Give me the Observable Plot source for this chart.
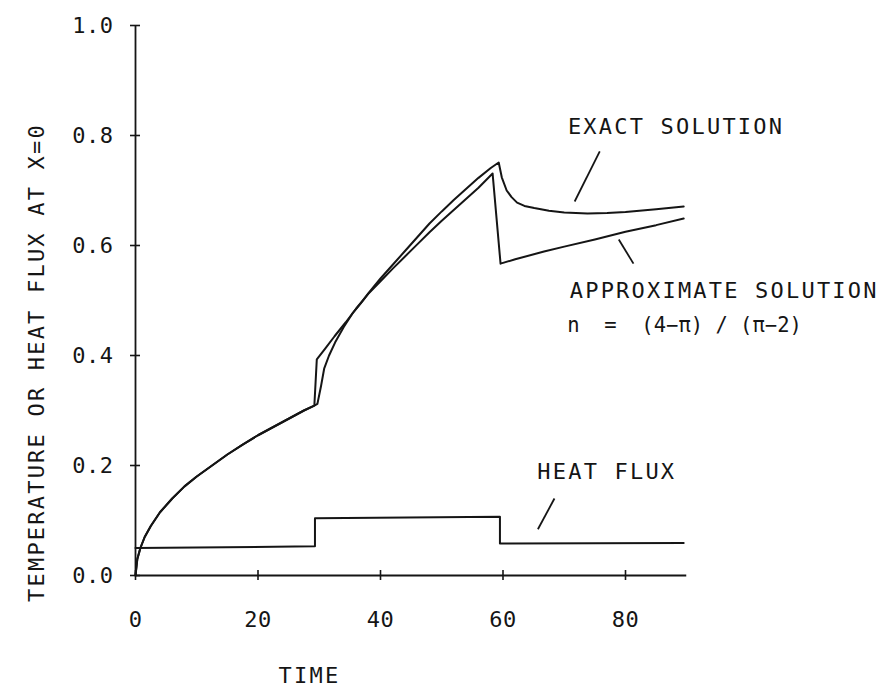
<!DOCTYPE html>
<html>
<head>
<meta charset="utf-8">
<script src="https://cdn.jsdelivr.net/npm/d3@7"></script>
<script src="https://cdn.jsdelivr.net/npm/@observablehq/plot@0.6"></script>
<style>
  body { margin: 0; background: #fff; }
  svg text { letter-spacing: 2.2px; }
  svg g[aria-label="x-axis tick label"] text,
  svg g[aria-label="y-axis tick label"] text { letter-spacing: 0.5px; }
</style>
</head>
<body>
<div id="chart"></div>
<script>
// ---- data ----
const exactX = [0, 0.3, 0.8, 1.5, 2.5, 4, 6, 8, 10, 12.5, 15, 17.5, 20, 22.5, 25, 27.5, 29.2, 29.7, 30.3, 30.8, 31.6, 32.6, 34, 35.4, 37, 38, 40, 42, 44, 46, 48, 50, 52, 54, 56, 58, 59.3, 59.8, 60.6, 61.4, 62.3, 63.5, 65.1, 67.5, 70, 73.8, 77, 80, 85, 89.5];
const exactY = [0, 0.03, 0.05, 0.07, 0.09, 0.115, 0.14, 0.162, 0.18, 0.2, 0.22, 0.238, 0.255, 0.27, 0.285, 0.3, 0.309, 0.312, 0.345, 0.376, 0.4, 0.424, 0.452, 0.476, 0.498, 0.513, 0.54, 0.565, 0.59, 0.615, 0.64, 0.662, 0.683, 0.703, 0.723, 0.741, 0.751, 0.724, 0.7, 0.688, 0.678, 0.672, 0.668, 0.663, 0.66, 0.658, 0.659, 0.661, 0.666, 0.671];

const approxX = [0, 0.3, 0.8, 1.5, 2.5, 4, 6, 8, 10, 12.5, 15, 17.5, 20, 22.5, 25, 27.5, 29.2, 29.6, 31, 32.5, 34.3, 36, 38, 40, 42, 44, 46, 48, 50, 52, 54, 56, 58.3, 59.6, 62, 66.7, 70, 75, 80, 85, 89.5];
const approxY = [0, 0.03, 0.05, 0.07, 0.09, 0.115, 0.14, 0.162, 0.18, 0.2, 0.22, 0.238, 0.255, 0.27, 0.285, 0.3, 0.309, 0.393, 0.413, 0.435, 0.46, 0.485, 0.512, 0.535, 0.558, 0.58, 0.602, 0.624, 0.645, 0.665, 0.685, 0.705, 0.731, 0.567, 0.575, 0.589, 0.598, 0.611, 0.625, 0.637, 0.649];

const fluxX = [0, 29.3, 29.3, 59.5, 59.5, 89.5];
const fluxY = [0.05, 0.053, 0.104, 0.107, 0.058, 0.059];

const xTicks = [0, 20, 40, 60, 80];
const yTicks = [0, 0.2, 0.4, 0.6, 0.8, 1.0];

const labelTexts = ["EXACT SOLUTION", "APPROXIMATE SOLUTION", "HEAT FLUX"];
const labelX = [70.6, 70.9, 65.6];
const labelY = [0.815, 0.518, 0.189];

const formulaText = "n  =  (4\u2212\u03c0) / (\u03c0\u22122)";
const formulaX = [70.5];
const formulaY = [0.455];

const leaderX1 = [75.8, 78.9, 68.4];
const leaderY1 = [0.771, 0.611, 0.14];
const leaderX2 = [71.7, 81.3, 65.7];
const leaderY2 = [0.680, 0.567, 0.084];

const yTitle = "TEMPERATURE OR HEAT FLUX AT X=0";
const xTitle = "TIME";

// ---- build tables ----
const exact = exactX.map((x, i) => ({x, y: exactY[i]}));
const approx = approxX.map((x, i) => ({x, y: approxY[i]}));
const flux = fluxX.map((x, i) => ({x, y: fluxY[i]}));
const labels = labelTexts.map((t, i) => ({t, x: labelX[i], y: labelY[i]}));
const formula = formulaX.map((x, i) => ({t: formulaText, x, y: formulaY[i]}));
const leaders = leaderX1.map((x1, i) => ({x1, y1: leaderY1[i], x2: leaderX2[i], y2: leaderY2[i]}));

const ink = "#151515";

const chart = Plot.plot({
  width: 884,
  height: 692,
  marginLeft: 135,
  marginRight: 197.75,
  marginTop: 25,
  marginBottom: 117,
  x: {domain: [0, 90]},
  y: {domain: [0, 1]},
  style: {fontFamily: "'DejaVu Sans Mono', monospace", fontSize: "22px", color: ink, background: "#fff"},
  marks: [
    Plot.ruleY([0], {stroke: ink, strokeWidth: 1.8}),
    Plot.ruleX([0], {stroke: ink, strokeWidth: 1.8}),
    Plot.ruleY(yTicks, {y: d => d, x1: 0, x2: 0, insetLeft: -5, insetRight: -5, stroke: ink, strokeWidth: 1.6}),
    Plot.ruleX(xTicks, {x: d => d, y1: 0, y2: 0, insetTop: -5, insetBottom: -5, stroke: ink, strokeWidth: 1.6}),
    Plot.axisY({ticks: yTicks, tickSize: 0, tickPadding: 22, tickFormat: d => d.toFixed(1), label: null}),
    Plot.axisX({ticks: xTicks, tickSize: 0, tickPadding: 36, tickFormat: d => String(d), label: null}),
    Plot.line(flux, {x: "x", y: "y", stroke: ink, strokeWidth: 2}),
    Plot.line(approx, {x: "x", y: "y", stroke: ink, strokeWidth: 2, curve: "linear"}),
    Plot.line(exact, {x: "x", y: "y", stroke: ink, strokeWidth: 2, curve: "linear"}),
    Plot.link(leaders, {x1: "x1", y1: "y1", x2: "x2", y2: "y2", stroke: ink, strokeWidth: 1.8}),
    Plot.text(labels, {x: "x", y: "y", text: "t", textAnchor: "start", fill: ink}),
    Plot.text(formula, {x: "x", y: "y", text: "t", textAnchor: "start", fontSize: 20.5, fill: ink}),
    Plot.text([yTitle], {frameAnchor: "left", textAnchor: "middle", rotate: -90, dx: -99, dy: 62, fill: ink}),
    Plot.text([xTitle], {x: 28.4, frameAnchor: "bottom", dy: 107, fill: ink})
  ]
});
d3.select(chart).selectAll("text")
  .filter(function () { return this.textContent === formulaText; })
  .style("letter-spacing", "0px");
document.getElementById("chart").appendChild(chart);
</script>
</body>
</html>
